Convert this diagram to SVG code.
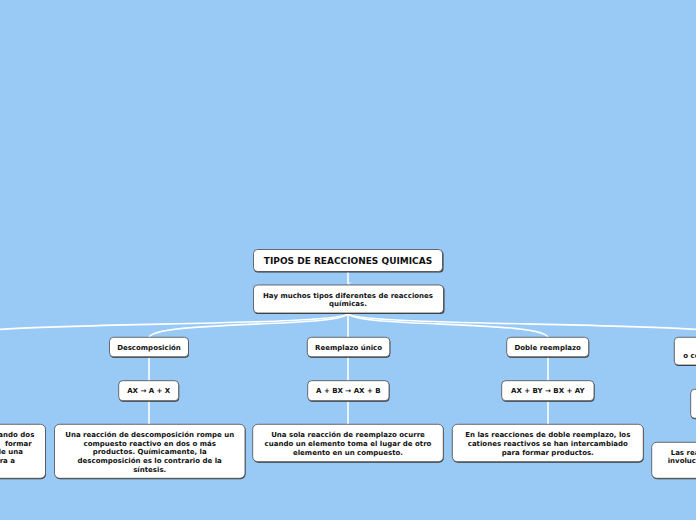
<svg xmlns="http://www.w3.org/2000/svg" width="696" height="520" viewBox="0 0 696 520">
<defs>
<style>
.bg{fill:#99c9f5}
.s{fill:#3c3c3c}
.b{fill:#fff;stroke:#4a4a4a;stroke-width:0.8}
text{font-family:"DejaVu Sans",Verdana,sans-serif;font-weight:bold;fill:#111;text-anchor:middle}
.t{font-size:9px}
.d{font-size:7px}
.e{text-anchor:end}
.st{text-anchor:start}
.c path,.c line{fill:none;stroke:#fff;stroke-width:1.6}
</style>
<marker id="ar" viewBox="0 0 6 6" refX="3" refY="5" markerWidth="4" markerHeight="4" orient="auto-start-reverse" markerUnits="userSpaceOnUse">
<path d="M0 0 L3 5 L6 0" fill="none" stroke="#fff" stroke-width="1"/>
</marker>
</defs>
<rect class="bg" x="0" y="0" width="696" height="520"/>

<g id="connectors" class="c">
<line x1="348" y1="272" x2="348" y2="284" marker-end="url(#ar)"/>
<path d="M348 313 C348 328 -50 320 -50 338"/>
<path d="M348 313 C348 328 149 320 149 338"/>
<line x1="348" y1="313" x2="348" y2="337"/>
<path d="M348 313 C348 328 548 320 548 338"/>
<path d="M348 313 C348 328 745 320 745 338"/>
<line x1="149" y1="357" x2="149" y2="381"/>
<line x1="149" y1="401" x2="149" y2="425"/>
<line x1="348" y1="357" x2="348" y2="381"/>
<line x1="348" y1="401" x2="348" y2="425"/>
<line x1="548" y1="357" x2="548" y2="381"/>
<line x1="548" y1="401" x2="548" y2="425"/>
</g>

<g id="root">
<rect class="s" x="254" y="250.5" width="189.5" height="22" rx="4"/>
<rect class="b" x="253.5" y="249.5" width="189" height="22" rx="4"/>
<text class="t" x="348" y="264">TIPOS DE REACCIONES QUIMICAS</text>
</g>

<g id="intro">
<rect class="s" x="254" y="286" width="190.5" height="28" rx="4"/>
<rect class="b" x="253.5" y="285" width="190" height="28" rx="4"/>
<text class="d" x="348" y="297.5">Hay muchos tipos diferentes de reacciones</text>
<text class="d" x="348" y="306">químicas.</text>
</g>

<g id="descomposicion">
<rect class="s" x="110" y="338.3" width="79" height="19.5" rx="4"/>
<rect class="b" x="109.5" y="337.3" width="79" height="19.5" rx="4"/>
<text class="d" x="149" y="349.8">Descomposición</text>
</g>
<g id="descomposicion-formula">
<rect class="s" x="119.2" y="381.7" width="60" height="20" rx="4"/>
<rect class="b" x="118.7" y="380.7" width="60" height="20" rx="4"/>
<text class="d" x="148.7" y="393.3">AX → A + X</text>
</g>
<g id="descomposicion-desc">
<rect class="s" x="55" y="425.3" width="190.5" height="54" rx="5"/>
<rect class="b" x="54.5" y="424.3" width="190.5" height="54" rx="5"/>
<text class="d" x="149.7" y="437">Una reacción de descomposición rompe un</text>
<text class="d" x="149.7" y="445.8">compuesto reactivo en dos o más</text>
<text class="d" x="149.7" y="454.3">productos. Químicamente, la</text>
<text class="d" x="149.7" y="463.1">descomposición es lo contrario de la</text>
<text class="d" x="149.7" y="471.5">síntesis.</text>
</g>

<g id="reemplazo">
<rect class="s" x="307.8" y="338.3" width="82.5" height="19.5" rx="4"/>
<rect class="b" x="307.3" y="337.3" width="82.5" height="19.5" rx="4"/>
<text class="d" x="348.6" y="349.8">Reemplazo único</text>
</g>
<g id="reemplazo-formula">
<rect class="s" x="308.2" y="381.7" width="81.3" height="20" rx="4"/>
<rect class="b" x="307.7" y="380.7" width="81.3" height="20" rx="4"/>
<text class="d" x="348.3" y="393.3">A + BX → AX + B</text>
</g>
<g id="reemplazo-desc">
<rect class="s" x="253.2" y="425.3" width="190.6" height="37.4" rx="5"/>
<rect class="b" x="252.7" y="424.3" width="190.6" height="37.4" rx="5"/>
<text class="d" x="348" y="437">Una sola reacción de reemplazo ocurre</text>
<text class="d" x="348" y="445.8">cuando un elemento toma el lugar de otro</text>
<text class="d" x="348" y="454.5">elemento en un compuesto.</text>
</g>

<g id="doble">
<rect class="s" x="507.2" y="338.3" width="82" height="19.5" rx="4"/>
<rect class="b" x="506.7" y="337.3" width="82" height="19.5" rx="4"/>
<text class="d" x="547.7" y="349.8">Doble reemplazo</text>
</g>
<g id="doble-formula">
<rect class="s" x="502.2" y="381.7" width="92.3" height="20" rx="4"/>
<rect class="b" x="501.7" y="380.7" width="92.3" height="20" rx="4"/>
<text class="d" x="547.8" y="393.3">AX + BY → BX + AY</text>
</g>
<g id="doble-desc">
<rect class="s" x="452.8" y="425.3" width="191" height="37.4" rx="5"/>
<rect class="b" x="452.3" y="424.3" width="191" height="37.4" rx="5"/>
<text class="d" x="547.8" y="437">En las reacciones de doble reemplazo, los</text>
<text class="d" x="547.8" y="445.8">cationes reactivos se han intercambiado</text>
<text class="d" x="547.8" y="454.5">para formar productos.</text>
</g>

<g id="left-desc">
<rect class="s" x="-145" y="425.3" width="191" height="54" rx="5"/>
<rect class="b" x="-145.5" y="424.3" width="191" height="54" rx="5"/>
<text class="d e" x="34.3" y="437">ando dos</text>
<text class="d e" x="31.7" y="445.8">formar</text>
<text class="d e" x="23" y="454.3">de una</text>
<text class="d e" x="15" y="463.1">ra a</text>
</g>

<g id="right-title">
<rect class="s" x="674.8" y="338.3" width="120" height="27.7" rx="4"/>
<rect class="b" x="674.3" y="337.3" width="120" height="27.7" rx="4"/>
<text class="d st" x="683.3" y="357.5">o co</text>
</g>
<g id="right-formula">
<rect class="s" x="691.2" y="390.3" width="100" height="29" rx="4"/>
<rect class="b" x="690.7" y="389.3" width="100" height="29" rx="4"/>
</g>
<g id="right-desc">
<rect class="s" x="652.2" y="443.3" width="190" height="36" rx="5"/>
<rect class="b" x="651.7" y="442.3" width="190" height="36" rx="5"/>
<text class="d st" x="670.7" y="455">Las rea</text>
<text class="d st" x="667.7" y="463">involuc</text>
</g>
</svg>
